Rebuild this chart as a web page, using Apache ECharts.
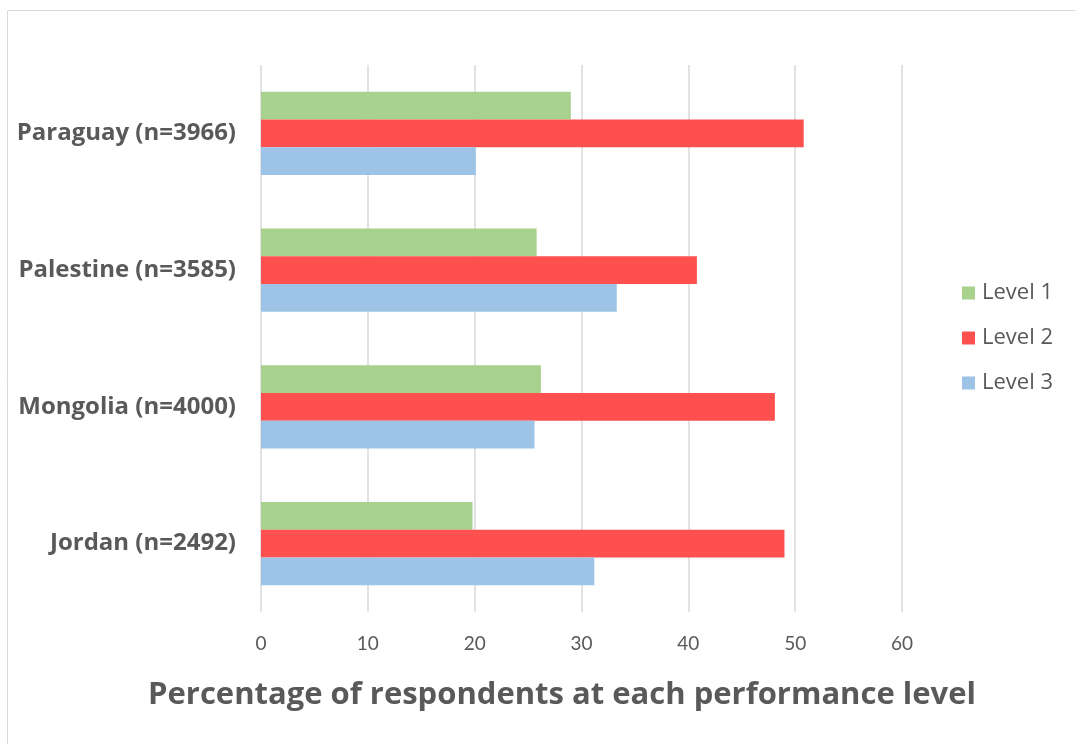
<!DOCTYPE html>
<html>
<head>
<meta charset="utf-8">
<script src="https://cdn.jsdelivr.net/npm/echarts@6/dist/echarts.min.js"></script>
<style>
  html, body { margin: 0; padding: 0; background: #fff; }
  #chart { width: 1076px; height: 744px; }
</style>
</head>
<body>
<div id="chart"></div>
<script>
// Countries, top to bottom
const countries = ['Paraguay (n=3966)', 'Palestine (n=3585)', 'Mongolia (n=4000)', 'Jordan (n=2492)'];
// Share of respondents (%) at each performance level
const level1 = [29.0, 25.8, 26.2, 19.8];
const level2 = [50.8, 40.8, 48.1, 49.0];
const level3 = [20.1, 33.3, 25.6, 31.2];
const levelNames = ['Level 1', 'Level 2', 'Level 3'];
const xTicks = { min: 0, max: 60, interval: 10 };
const axisTitle = 'Percentage of respondents at each performance level';

const FONT = '"Open Sans", Lato, sans-serif';
const TICK_FONT = 'Lato, "Open Sans", sans-serif';
const TEXT = '#595959';
const colors = ['#A9D18E', '#FF5050', '#9DC3E6'];

const chart = echarts.init(document.getElementById('chart'), null, { renderer: 'canvas' });

const seriesData = [level1, level2, level3];

chart.setOption({
  animation: false,
  backgroundColor: '#ffffff',
  textStyle: { fontFamily: FONT },
  graphic: [{
    type: 'rect',
    shape: { x: 7.5, y: 10.5, width: 1100, height: 800 },
    style: { fill: 'none', stroke: '#D9D9D9', lineWidth: 1 },
    silent: true
  }],
  // horizontal axis title, centred under the whole chart area
  title: {
    text: axisTitle,
    left: 557,
    top: 675,
    textAlign: 'center',
    textStyle: { color: TEXT, fontSize: 31, fontWeight: 'bold', fontFamily: FONT }
  },
  grid: { left: 261, right: 174, top: 65, bottom: 132, containLabel: false },
  legend: {
    orient: 'vertical',
    left: 957,
    top: 277,
    itemWidth: 13,
    itemHeight: 13,
    itemGap: 23,
    icon: 'rect',
    data: levelNames,
    textStyle: { color: TEXT, fontSize: 22, fontFamily: FONT, padding: [0, 0, 0, 2] }
  },
  xAxis: {
    type: 'value',
    min: xTicks.min,
    max: xTicks.max,
    interval: xTicks.interval,
    axisLine: { show: false },
    axisTick: { show: false },
    splitLine: { lineStyle: { color: '#D9D9D9', width: 1.5 } },
    axisLabel: { color: TEXT, fontSize: 19, margin: 22, fontFamily: TICK_FONT }
  },
  yAxis: {
    type: 'category',
    inverse: true,
    data: countries,
    axisLine: { show: false },
    axisTick: { show: false },
    splitLine: { show: false },
    axisLabel: { color: TEXT, fontSize: 24, fontWeight: 'bold', margin: 25, fontFamily: FONT }
  },
  series: levelNames.map((name, i) => ({
    name: name,
    type: 'bar',
    data: seriesData[i],
    barGap: '0%',
    barCategoryGap: '39%',
    itemStyle: { color: colors[i] }
  }))
});
</script>
</body>
</html>
